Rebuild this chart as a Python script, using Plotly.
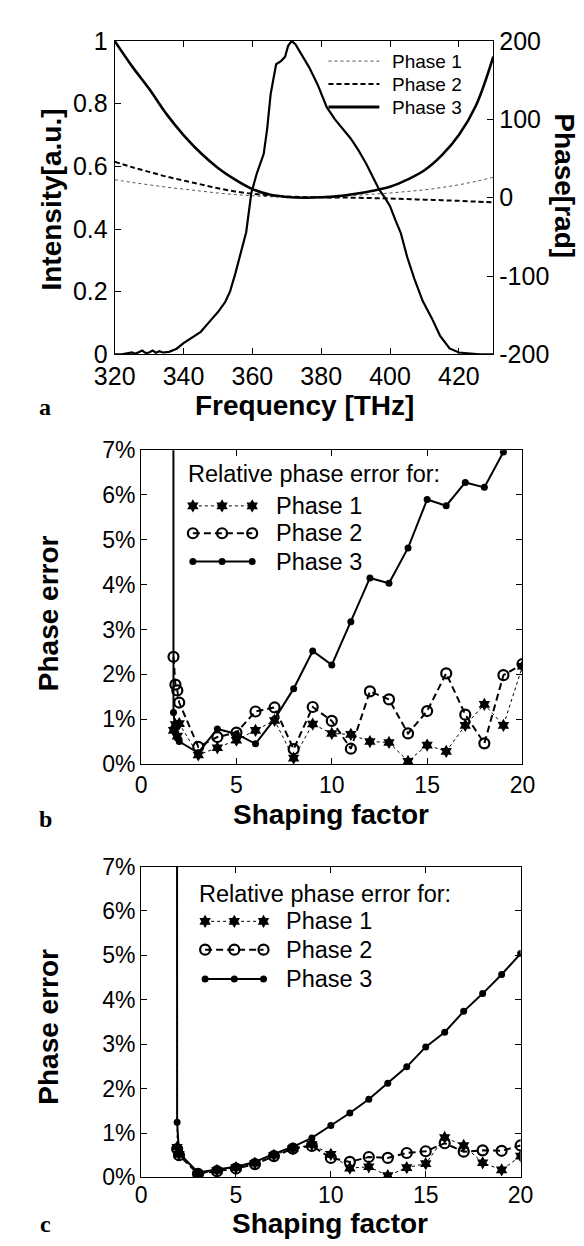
import plotly.graph_objects as go

W, H = 584, 1246

# ---------------- Panel a data ----------------
freq_int = [320, 322, 324, 325, 326, 327, 328, 329, 330, 331, 332, 333, 334, 335.8, 338, 339.9, 342, 345, 348,
            350, 352.1, 353.5, 355.1, 356.5, 358.2, 359.7, 361.3, 363.3, 364.3, 365.3, 366.9, 368.4, 369.5, 370.4,
            371.4, 372.5, 374.5, 376.5, 379, 381.6, 384, 386.7, 388.5, 390.8, 393, 395.4, 396.9, 398.5, 400,
            401.5, 403.1, 405, 407.1, 409.5, 412.2, 414.5, 417.3, 420, 423, 426, 430]
intensity = [0.0, 0.0, 0.004, 0.006, 0.002, 0.008, 0.012, 0.004, 0.006, 0.012, 0.005, 0.01, 0.006, 0.008, 0.018,
             0.035, 0.05, 0.072, 0.11, 0.135, 0.167, 0.2, 0.26, 0.32, 0.39, 0.515, 0.578, 0.64, 0.72, 0.83, 0.926,
             0.937, 0.95, 0.985, 1.0, 0.99, 0.955, 0.916, 0.86, 0.789, 0.75, 0.715, 0.69, 0.652, 0.61, 0.557,
             0.525, 0.5, 0.473, 0.43, 0.388, 0.31, 0.24, 0.17, 0.114, 0.06, 0.019, 0.006, 0.002, 0.0, 0.0]

freq_ph = [320, 325, 330, 335, 340, 345, 350, 355, 360, 365, 370, 375, 380, 385, 390, 395, 400, 405, 410, 415,
           420, 425, 430]
phase1 = [23, 19.5, 16.5, 13.5, 11, 8.5, 6, 4, 2.5, 1.2, 0.5, 0.2, 0.5, 1.5, 3, 4.5, 6, 8, 10, 13, 16.5, 21, 26]
phase2 = [46, 39, 33, 27, 22, 17, 12, 8, 5, 3, 1.5, 0.8, 0.5, 0.2, 0, -0.5, -1, -1.8, -2.5, -3.2, -4, -5, -6]
phase3 = [200, 168, 139, 107, 80, 57, 38, 23, 11, 4, 1, 0, 0.5, 2, 5, 9, 14, 23, 35, 54, 80, 118, 180]

# ---------------- Panel b data ----------------
sf_b = [1.65, 1.7, 1.8, 1.9, 2, 3, 4, 5, 6, 7, 8, 9, 10, 11, 12, 13, 14, 15, 16, 17, 18, 19, 20]
err_b_phase1 = [None, 0.75, 0.88, 0.62, 0.9, 0.2, 0.36, 0.53, 0.75, 0.97, 0.13, 0.89, 0.68, 0.66, 0.5, 0.48,
                0.06, 0.42, 0.28, 0.86, 1.33, 0.86, 2.18]
err_b_phase2 = [None, 2.39, 1.77, 1.64, 1.37, 0.38, 0.6, 0.7, 1.17, 1.26, 0.33, 1.27, 0.96, 0.34, 1.62, 1.44,
                0.68, 1.18, 2.02, 1.1, 0.46, 1.98, 2.23]
err_b_phase3 = [80, 1.15, 0.72, 0.58, 0.5, 0.25, 0.78, 0.67, 0.45, 1.0, 1.68, 2.52, 2.21, 3.17, 4.15, 4.03,
                4.82, 5.9, 5.76, 6.28, 6.17, 6.96, 7.8]

# ---------------- Panel c data ----------------
sf_c = [1.85, 1.9, 2, 3, 4, 5, 6, 7, 8, 9, 10, 11, 12, 13, 14, 15, 16, 17, 18, 19, 20]
err_c_phase1 = [40, 0.68, 0.52, 0.07, 0.16, 0.22, 0.32, 0.5, 0.65, 0.74, 0.52, 0.21, 0.24, 0.04, 0.22, 0.31,
                0.9, 0.72, 0.33, 0.17, 0.48]
err_c_phase2 = [None, 0.64, 0.5, 0.08, 0.14, 0.2, 0.3, 0.48, 0.65, 0.71, 0.44, 0.35, 0.46, 0.44, 0.55, 0.59,
                0.77, 0.58, 0.61, 0.6, 0.72]
err_c_phase3 = [80, 1.24, 0.55, 0.11, 0.18, 0.24, 0.35, 0.53, 0.69, 0.89, 1.17, 1.45, 1.76, 2.12, 2.49, 2.94,
                3.27, 3.74, 4.14, 4.57, 5.04]

pct_vals = [0, 1, 2, 3, 4, 5, 6, 7]
pct_text = ["0%", "1%", "2%", "3%", "4%", "5%", "6%", "7%"]
sf_ticks = [0, 5, 10, 15, 20]
freq_ticks = [320, 340, 360, 380, 400, 420]
int_ticks = [0, 0.2, 0.4, 0.6, 0.8, 1]
int_text = ["0", "0.2", "0.4", "0.6", "0.8", "1"]
ph_ticks = [-200, -100, 0, 100, 200]
ph_text = ["-200", "-100", "0", "100", "200"]
legend_names = ["Phase 1", "Phase 2", "Phase 3"]

FONT = "Liberation Sans, Arial, Helvetica, sans-serif"
SERIF = "Liberation Serif, Times New Roman, serif"
BLACK = "#000000"


def py(px):
    return 1 - px / H


def px_x(px):
    return px / W


fig = go.Figure()

# panel a
fig.add_trace(go.Scatter(x=freq_int, y=intensity, mode="lines", line=dict(color=BLACK, width=2.2),
                         xaxis="x", yaxis="y", showlegend=False))
fig.add_trace(go.Scatter(x=freq_ph, y=phase1, mode="lines",
                         line=dict(color="#555555", width=1, dash="dot", shape="spline"),
                         xaxis="x", yaxis="y2", showlegend=False))
fig.add_trace(go.Scatter(x=freq_ph, y=phase2, mode="lines",
                         line=dict(color=BLACK, width=2, dash="5px,3px", shape="spline"),
                         xaxis="x", yaxis="y2", showlegend=False))
fig.add_trace(go.Scatter(x=freq_ph, y=phase3, mode="lines", line=dict(color=BLACK, width=2.6, shape="spline"),
                         xaxis="x", yaxis="y2", showlegend=False))

styles = [
    dict(line=dict(color=BLACK, width=1, dash="dot"),
         marker=dict(symbol="hexagram", size=10, color=BLACK)),
    dict(line=dict(color=BLACK, width=2, dash="7px,4px"),
         marker=dict(symbol="circle-open", size=10, color=BLACK, line=dict(width=2.2, color=BLACK))),
    dict(line=dict(color=BLACK, width=2),
         marker=dict(symbol="circle", size=7, color=BLACK)),
]

for xa, ya, sf, series in [("x2", "y3", sf_b, [err_b_phase1, err_b_phase2, err_b_phase3]),
                           ("x3", "y4", sf_c, [err_c_phase1, err_c_phase2, err_c_phase3])]:
    for st, vals in zip(styles, series):
        fig.add_trace(go.Scatter(x=sf, y=vals, mode="lines+markers", xaxis=xa, yaxis=ya,
                                 showlegend=False, connectgaps=False, **st))

# ---- custom legends on a pixel helper axis (x4, y5) ----
leg_a_rows = [40, 63.5, 87]
leg_a_lines = [dict(color="#555555", width=1, dash="dot"), dict(color=BLACK, width=2, dash="5px,3px"),
               dict(color=BLACK, width=3)]
for r, ln in zip(leg_a_rows, leg_a_lines):
    fig.add_trace(go.Scatter(x=[318, 372], y=[r, r], mode="lines", line=ln, xaxis="x4", yaxis="y5",
                             showlegend=False, hoverinfo="skip"))

for rows, mx in [([495, 523, 552], [174, 205, 237]), ([920, 949, 979], [187, 218, 249])]:
    for r, st in zip(rows, styles):
        fig.add_trace(go.Scatter(x=mx, y=[r, r, r], mode="lines+markers", xaxis="x4", yaxis="y5",
                                 showlegend=False, hoverinfo="skip", **st))

annotations = []


def ann(text, x, y, size, bold=False, angle=0, xanchor="left", family=FONT):
    t = f"<b>{text}</b>" if bold else text
    annotations.append(dict(text=t, x=x, y=y, xref="x4", yref="y5", showarrow=False, textangle=angle,
                            xanchor=xanchor, yanchor="middle", borderpad=0,
                            font=dict(family=family, size=size, color=BLACK)))


for r, name in zip(leg_a_rows, legend_names):
    ann(name, 384, r, 19)
ann("Relative phase error for:", 168, 462, 23.5)
for r, name in zip([495, 523, 552], legend_names):
    ann(name, 261, r, 23.5)
ann("Relative phase error for:", 179, 892, 23.5)
for r, name in zip([920, 949, 979], legend_names):
    ann(name, 272, r, 23.5)

# axis titles
ann("Frequency [THz]", 292, 392, 28, bold=True, xanchor="center")
ann("Intensity[a.u.]", 24, 182, 28, bold=True, angle=-90, xanchor="center")
ann("Phase[rad]", 569, 168, 28, bold=True, angle=90, xanchor="center")
ann("Shaping factor", 321, 811, 28, bold=True, xanchor="center")
ann("Phase error", 21, 605, 28, bold=True, angle=-90, xanchor="center")
ann("Shaping factor", 320, 1229, 28, bold=True, xanchor="center")
ann("Phase error", 21, 1028, 28, bold=True, angle=-90, xanchor="center")
# panel letters
ann("a", 17, 394, 24, bold=True, xanchor="center", family=SERIF)
ann("b", 17, 815, 24, bold=True, xanchor="center", family=SERIF)
ann("c", 17, 1230, 24, bold=True, xanchor="center", family=SERIF)

axis_common = dict(showgrid=False, zeroline=False, showline=True, linecolor=BLACK, linewidth=1,
                   ticks="inside", ticklen=6, tickcolor=BLACK, tickwidth=1)
font_a = dict(family=FONT, size=25, color=BLACK)
font_bc = dict(family=FONT, size=23, color=BLACK)

layout = dict(
    width=W, height=H, margin=dict(l=0, r=0, t=0, b=0),
    paper_bgcolor="white", plot_bgcolor="rgba(0,0,0,0)",
    showlegend=False,
    xaxis=dict(domain=[px_x(91), px_x(493)], anchor="y", range=[320, 430], tickvals=freq_ticks,
               mirror="ticks", tickfont=font_a, **axis_common),
    yaxis=dict(domain=[py(340), py(19.5)], anchor="x", range=[0, 1], tickvals=int_ticks, ticktext=int_text,
               tickfont=font_a, ticklabelstandoff=1, **axis_common),
    yaxis2=dict(overlaying="y", side="right", anchor="x", range=[-200, 200], tickvals=ph_ticks, ticktext=ph_text,
                tickfont=font_a, **axis_common),
    xaxis2=dict(domain=[px_x(119), px_x(524)], anchor="y3", range=[0, 20], tickvals=sf_ticks, mirror="ticks",
                tickfont=font_bc, **axis_common),
    yaxis3=dict(domain=[py(759), py(438)], anchor="x2", range=[0, 7], tickvals=pct_vals, ticktext=pct_text,
                mirror="ticks", tickfont=font_bc, **axis_common),
    xaxis3=dict(domain=[px_x(119), px_x(522)], anchor="y4", range=[0, 20], tickvals=sf_ticks, mirror="ticks",
                tickfont=font_bc, ticklabelstandoff=-3, **axis_common),
    yaxis4=dict(domain=[py(1182), py(864)], anchor="x3", range=[0, 7], tickvals=pct_vals, ticktext=pct_text,
                mirror="ticks", tickfont=font_bc, **axis_common),
    xaxis4=dict(domain=[0, 1], anchor="y5", range=[0, W], visible=False, fixedrange=True),
    yaxis5=dict(domain=[0, 1], anchor="x4", range=[H, 0], visible=False, fixedrange=True),
    annotations=annotations,
)
fig.update_layout(**layout)
fig.write_html("out.html")
